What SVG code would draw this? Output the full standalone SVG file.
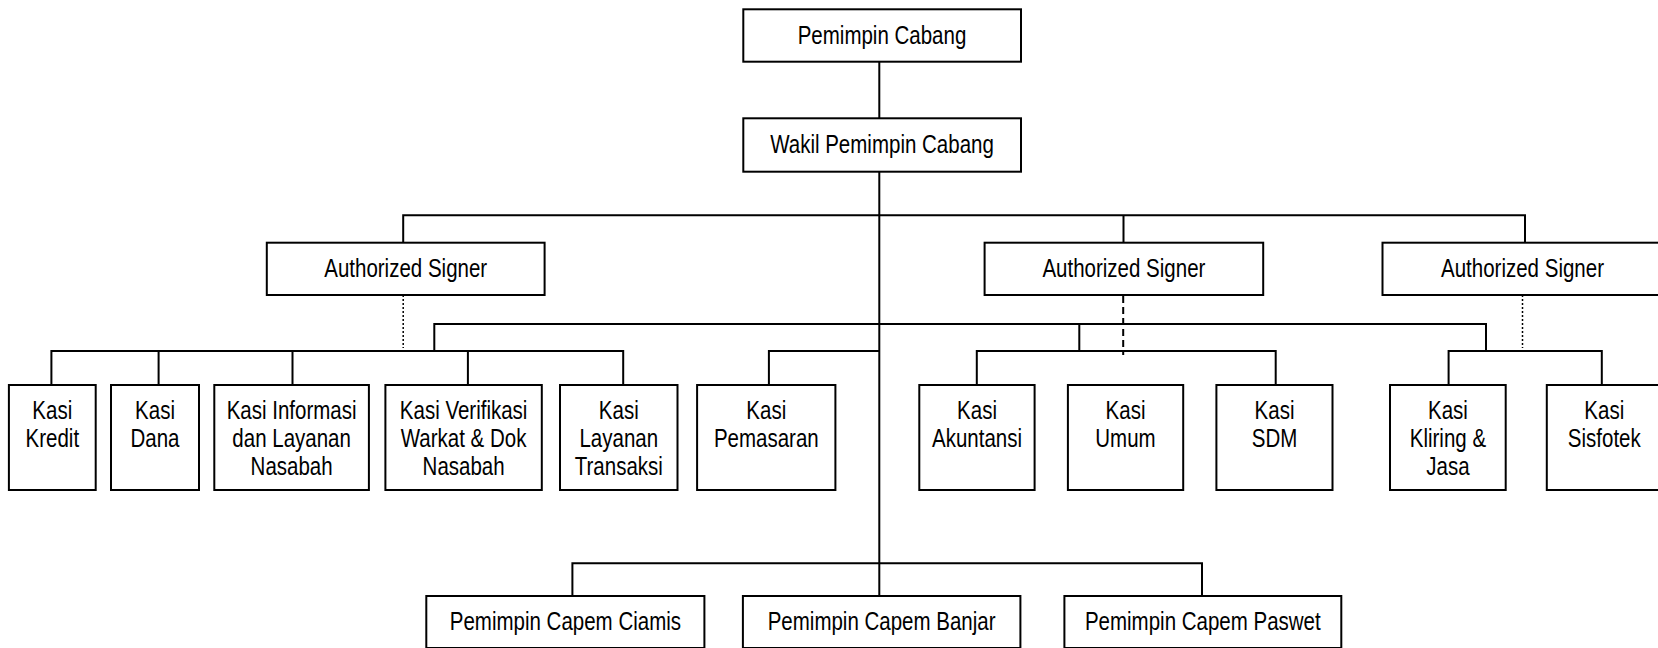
<svg xmlns="http://www.w3.org/2000/svg" width="1658" height="648" viewBox="0 0 1658 648">
<style>
.b{fill:#fff;stroke:#000;stroke-width:2}
.t{font-family:"Liberation Sans",Arial,sans-serif;font-size:25px;fill:#000;text-anchor:middle}
.c{fill:none;stroke:#000;stroke-width:2}
.dot{fill:none;stroke:#000;stroke-width:1.5;stroke-dasharray:2 2}
.dash{fill:none;stroke:#000;stroke-width:2;stroke-dasharray:7 4}
</style>
<rect width="1658" height="648" fill="#fff"/>
<g id="connectors">
<path class="c" d="M879.3 61.7V596"/>
<path class="c" d="M403.2 243V215.3H1525V243M1123.5 215.3V243"/>
<path class="c" d="M434.3 351V324H1486V351"/>
<path class="c" d="M51.4 385V351H623.2V385M158.6 351V385M292.5 351V385M467.9 351V385"/>
<path class="c" d="M768.9 385V351H879.3"/>
<path class="c" d="M976.8 385V351H1275.7V385M1079.3 324V351"/>
<path class="c" d="M1448.6 385V351H1601.8V385"/>
<path class="c" d="M572.4 596V563.3H1202V596"/>
<path class="dot" d="M403.2 283V348"/>
<path class="dash" d="M1123.2 296V355"/>
<path class="dot" d="M1522.5 283V348"/>
</g>
<g id="pemimpin-cabang"><rect class="b" x="743.3" y="9.3" width="277.7" height="52.4"/><text class="t" transform="translate(882 0) scale(0.82 1)" x="0" y="44.5">Pemimpin Cabang</text></g>
<g id="wakil"><rect class="b" x="743.3" y="118.3" width="277.7" height="53.4"/><text class="t" transform="translate(882 0) scale(0.82 1)" x="0" y="153.5">Wakil Pemimpin Cabang</text></g>
<g id="auth1"><rect class="b" x="266.8" y="242.7" width="277.8" height="52.3"/><text class="t" transform="translate(405.7 0) scale(0.82 1)" x="0" y="277">Authorized Signer</text></g>
<g id="auth2"><rect class="b" x="984.6" y="242.7" width="278.6" height="52.3"/><text class="t" transform="translate(1123.9 0) scale(0.82 1)" x="0" y="277">Authorized Signer</text></g>
<g id="auth3"><rect class="b" x="1382.5" y="242.7" width="280" height="52.3"/><text class="t" transform="translate(1522.5 0) scale(0.82 1)" x="0" y="277">Authorized Signer</text></g>
<g id="kasi-kredit"><rect class="b" x="8.9" y="385" width="86.8" height="105"/><text class="t" transform="translate(52.3 0) scale(0.82 1)" x="0" y="419">Kasi<tspan x="0" dy="28">Kredit</tspan></text></g>
<g id="kasi-dana"><rect class="b" x="111" y="385" width="88" height="105"/><text class="t" transform="translate(155 0) scale(0.82 1)" x="0" y="419">Kasi<tspan x="0" dy="28">Dana</tspan></text></g>
<g id="kasi-informasi"><rect class="b" x="214.3" y="385" width="154.6" height="105"/><text class="t" transform="translate(291.6 0) scale(0.82 1)" x="0" y="419">Kasi Informasi<tspan x="0" dy="28">dan Layanan</tspan><tspan x="0" dy="28">Nasabah</tspan></text></g>
<g id="kasi-verifikasi"><rect class="b" x="385.4" y="385" width="156.4" height="105"/><text class="t" transform="translate(463.6 0) scale(0.82 1)" x="0" y="419">Kasi Verifikasi<tspan x="0" dy="28">Warkat &amp; Dok</tspan><tspan x="0" dy="28">Nasabah</tspan></text></g>
<g id="kasi-layanan-transaksi"><rect class="b" x="560" y="385" width="117.5" height="105"/><text class="t" transform="translate(618.8 0) scale(0.82 1)" x="0" y="419">Kasi<tspan x="0" dy="28">Layanan</tspan><tspan x="0" dy="28">Transaksi</tspan></text></g>
<g id="kasi-pemasaran"><rect class="b" x="697.1" y="385" width="138.3" height="105"/><text class="t" transform="translate(766.3 0) scale(0.82 1)" x="0" y="419">Kasi<tspan x="0" dy="28">Pemasaran</tspan></text></g>
<g id="kasi-akuntansi"><rect class="b" x="919.3" y="385" width="115.3" height="105"/><text class="t" transform="translate(977 0) scale(0.82 1)" x="0" y="419">Kasi<tspan x="0" dy="28">Akuntansi</tspan></text></g>
<g id="kasi-umum"><rect class="b" x="1067.9" y="385" width="115.3" height="105"/><text class="t" transform="translate(1125.5 0) scale(0.82 1)" x="0" y="419">Kasi<tspan x="0" dy="28">Umum</tspan></text></g>
<g id="kasi-sdm"><rect class="b" x="1216.4" y="385" width="116.1" height="105"/><text class="t" transform="translate(1274.5 0) scale(0.82 1)" x="0" y="419">Kasi<tspan x="0" dy="28">SDM</tspan></text></g>
<g id="kasi-kliring"><rect class="b" x="1390" y="385" width="115.7" height="105"/><text class="t" transform="translate(1447.9 0) scale(0.82 1)" x="0" y="419">Kasi<tspan x="0" dy="28">Kliring &amp;</tspan><tspan x="0" dy="28">Jasa</tspan></text></g>
<g id="kasi-sisfotek"><rect class="b" x="1546.8" y="385" width="115" height="105"/><text class="t" transform="translate(1604.3 0) scale(0.82 1)" x="0" y="419">Kasi<tspan x="0" dy="28">Sisfotek</tspan></text></g>
<g id="capem-ciamis"><rect class="b" x="426.3" y="596" width="278.1" height="52"/><text class="t" transform="translate(565.4 0) scale(0.82 1)" x="0" y="630">Pemimpin Capem Ciamis</text></g>
<g id="capem-banjar"><rect class="b" x="742.9" y="596" width="277.5" height="52"/><text class="t" transform="translate(881.6 0) scale(0.82 1)" x="0" y="630">Pemimpin Capem Banjar</text></g>
<g id="capem-paswet"><rect class="b" x="1064.4" y="596" width="276.9" height="52"/><text class="t" transform="translate(1202.8 0) scale(0.82 1)" x="0" y="630">Pemimpin Capem Paswet</text></g>
</svg>
